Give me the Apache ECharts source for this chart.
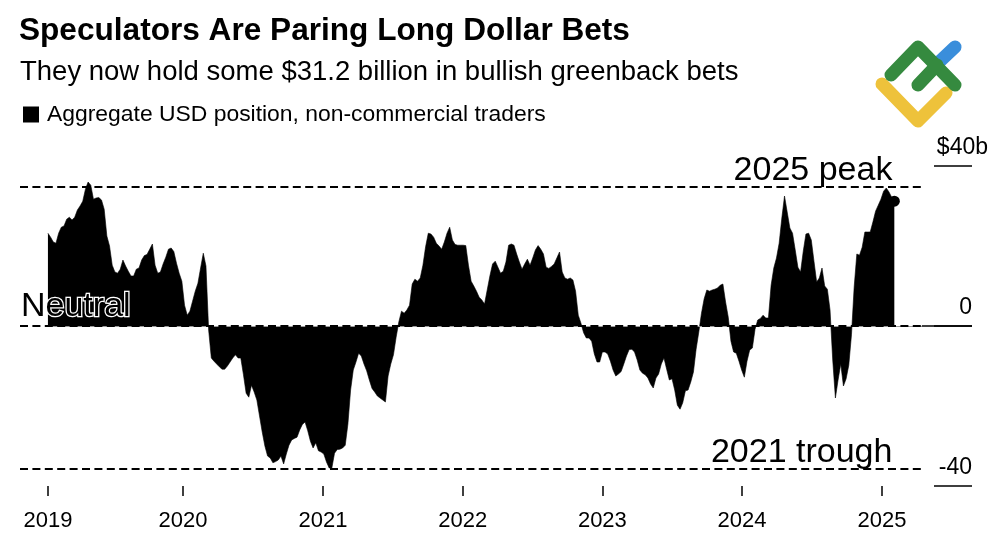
<!DOCTYPE html>
<html>
<head>
<meta charset="utf-8">
<style>html,body{margin:0;padding:0;background:#fff}#chart{width:1000px;height:545px}</style>
<script src="https://cdn.jsdelivr.net/npm/echarts@6/dist/echarts.min.js"></script>
</head>
<body>
<div id="chart"></div>
<script>
const FONT = '"Liberation Sans"'
// first weekly report in the chart, one value per week after that ($b)
const firstReport = '2019-01-13'
const usdPosition = [
  23.2,22.2,21,20.7,23.2,24.7,25,26.7,27.2,26.5,27.2,29,30,31.2,34.2,36,35.2,31.7,32,32.1,
  31.5,29.2,22.5,20,15.2,13.5,13.2,14.2,16.5,15,13.7,12.5,12.5,14.2,14.5,16.5,17.6,17.9,19.2,20.5,
  15.2,13.2,13.5,15.5,17.2,19.2,19.5,18.6,15.7,13.2,11.2,5.2,2.7,3.7,6.2,8.7,10.7,14.5,18.2,15,
  -1,-8,-8.8,-9.5,-10.2,-10.8,-10.8,-10,-9,-8,-7.2,-8,-8,-12.2,-16.8,-17.8,-14.8,-16.5,-18.5,-22.5,
  -26.5,-30,-32.5,-33,-34.2,-33.9,-33.5,-32.5,-34.5,-32,-29.8,-28.5,-28.1,-27.8,-26,-24.6,-24,-26.2,-28.8,-30.5,
  -29.2,-31.2,-31.5,-32,-34,-35.5,-35.5,-31.8,-30.9,-30.8,-30.5,-29.8,-24.5,-16,-11,-9,-6.8,-7.5,-9.5,-11.2,
  -13.5,-15.6,-16.5,-17.5,-18,-18.5,-19,-12.5,-9.5,-7.2,-2.8,1,3.7,3.2,4,5.2,10.5,11.7,11.2,12,
  15.2,19.8,23.2,23,22.2,20.7,20,19.2,21,23.2,24.7,21.5,20.4,20.2,20.2,20.2,20.1,15.2,11.2,10,
  8.7,7.2,6.5,5.5,9,12.5,15.5,16.2,14.7,13.2,13.7,16,20.2,20.5,20.2,18,16,14.2,15.5,16.7,
  15.2,17,19,20.1,19.2,18,14.7,14.4,14.9,15.5,17,18.5,13.5,12,11.7,12,11.5,8.7,2.7,0.7,
  -1.7,-3,-3,-3.8,-7,-9,-9,-6.5,-6.5,-7,-8.8,-11,-12.5,-12,-11.4,-9.5,-7.5,-5.9,-5.8,-6.5,
  -8.5,-11,-11.8,-12.2,-13,-14.5,-15.5,-13,-12,-9.5,-8,-10.8,-13.5,-13.2,-16,-19.8,-20.8,-19.2,-16.2,-16,
  -14,-11.5,-5.8,-1.5,3.2,6.8,9,8.7,9,9.2,9.5,10.2,10.5,6,2.2,-3.8,-6.5,-6.8,-8.8,-11,
  -12.8,-8.8,-6,-5.5,-0.8,1.5,1.9,2.7,2,2,10.2,14.5,17,20.7,27,32.5,28.5,24.5,23.2,19,
  14.7,13.5,18.7,23,23.2,21.5,16.2,11,12,14.5,10,9.2,4,-8.5,-18,-13.5,-9.5,-15,-13.2,-9.8,
  -2.2,9.7,18,17.7,19.7,23.5,23.5,23.5,26,28.7,30.2,31.7,33.7,34.5,33.5,32.2,31.2
]
const yearTicks = ['2019-01-13','2020-01-01','2021-01-01','2022-01-01','2023-01-01','2024-01-01','2025-01-01']
const refLevels = [34.75, 0, -35.75]
const refLineEnd = '2025-04-15'
const axisStart = '2018-11-01'
const axisEnd = '2025-08-24'
const seriesName = 'Aggregate USD position, non-commercial traders'

const ms = d => +new Date(d + 'T00:00:00Z')
const weekMs = 7 * 24 * 3600 * 1000
const seriesData = usdPosition.map((v, i) => [ms(firstReport) + i * weekMs, v])
const lastPoint = seriesData[seriesData.length - 1]
const tickValues = yearTicks.map(ms)

const myChart = echarts.init(document.getElementById('chart'), null, {renderer: 'canvas'})

const note = (text, date, value, extra) => ({
  coord: [ms(date), value], symbolSize: 0,
  label: Object.assign({
    show: true, formatter: text, position: [0, 0], align: 'right', verticalAlign: 'bottom',
    fontFamily: FONT, fontSize: 34, color: '#000'
  }, extra)
})

myChart.setOption({
  animation: false,
  backgroundColor: '#fff',
  textStyle: {fontFamily: FONT},
  title: [
    {text: 'Speculators Are Paring Long Dollar Bets', left: 19, top: 15, padding: 0,
      textStyle: {fontFamily: FONT, fontWeight: 'bold', fontSize: 31.6, color: '#000'}},
    {text: 'They now hold some $31.2 billion in bullish greenback bets', left: 20, top: 58, padding: 0,
      textStyle: {fontFamily: FONT, fontWeight: 'normal', fontSize: 27.5, color: '#000'}}
  ],
  legend: {
    left: 23, top: 103, padding: 0, itemWidth: 16, itemHeight: 16, itemGap: 0,
    icon: 'rect', selectedMode: false,
    textStyle: {fontFamily: FONT, fontSize: 22.9, color: '#000', padding: [0, 0, 0, 3]},
    data: [seriesName]
  },
  grid: {left: 20, right: 28, top: 166, bottom: 59},
  xAxis: {
    type: 'value', min: ms(axisStart), max: ms(axisEnd),
    axisLine: {show: false, onZero: false},
    splitLine: {show: false},
    axisTick: {show: true, length: 10, customValues: tickValues, lineStyle: {color: '#000', width: 1.5}},
    axisLabel: {
      customValues: tickValues,
      formatter: v => String(new Date(v).getUTCFullYear()),
      fontFamily: FONT, fontSize: 22, color: '#000', margin: 24
    }
  },
  yAxis: {
    type: 'value', position: 'right', min: -40, max: 40, interval: 40,
    axisLine: {show: false},
    splitLine: {show: false},
    axisTick: {show: true, inside: true, length: 38, lineStyle: {color: '#000', width: 1.5}},
    axisLabel: {
      // "$40b" hangs past the tick's right end, the others stop at it
      inside: true, margin: -16, verticalAlign: 'bottom', padding: [0, 0, 7, 0],
      fontFamily: FONT, fontSize: 23, color: '#000',
      formatter: v => (v === 40 ? '$40b' : '{pad|' + v + '}'),
      rich: {pad: {fontFamily: FONT, fontSize: 23, color: '#000', padding: [0, 16, 0, 0]}}
    }
  },
  series: [{
    name: seriesName,
    type: 'line',
    data: seriesData,
    showSymbol: false,
    symbol: 'none',
    silent: true,
    itemStyle: {color: '#000'},
    lineStyle: {color: '#000', width: 0.6},
    areaStyle: {color: '#000', opacity: 1},
    markLine: {
      silent: true, symbol: 'none', animation: false, label: {show: false},
      lineStyle: {color: '#000', width: 2, type: [8, 4.4], opacity: 1},
      data: [
        // thin grey rule under the neutral dashes, solid black stub up to the right axis
        [{coord: [ms(firstReport), 0], lineStyle: {color: '#999', width: 1, type: 'solid'}}, {coord: [ms(refLineEnd), 0]}],
        [{coord: [ms(refLineEnd), 0], lineStyle: {color: '#000', width: 1.5, type: 'solid'}}, {coord: [ms(axisEnd), 0]}]
      ].concat(refLevels.map(y => [{coord: [ms(axisStart), y]}, {coord: [ms(refLineEnd), y]}]))
    },
    markPoint: {
      silent: true, animation: false,
      data: [
        {coord: lastPoint, symbol: 'circle', symbolSize: 11, itemStyle: {color: '#000'}, label: {show: false}},
        note('2025 peak', '2025-01-28', refLevels[0], {offset: [0, 1]}),
        note('2021 trough', '2025-01-28', refLevels[2], {offset: [0, 1]}),
        note('Neutral', '2018-11-01', 0, {align: 'left', padding: [0, 0, 2, 1],
          textBorderColor: '#fff', textBorderWidth: 2.5})
      ]
    }
  }],
  graphic: [
    // watermark logo in the corner
    {type: 'polyline', z: 50, shape: {points: [[882, 84], [918, 121], [946, 93]]},
      style: {fill: null, stroke: '#EEC23B', lineWidth: 13, lineCap: 'round', lineJoin: 'round'}},
    {type: 'polyline', z: 50, shape: {points: [[937, 64], [955, 47]]},
      style: {fill: null, stroke: '#3A8EDB', lineWidth: 13, lineCap: 'round'}},
    {type: 'polyline', z: 51, shape: {points: [[891, 75], [918, 47], [955, 85]]},
      style: {fill: null, stroke: '#358A3F', lineWidth: 13, lineCap: 'round', lineJoin: 'round'}},
    {type: 'polyline', z: 51, shape: {points: [[918, 85], [937, 65]]},
      style: {fill: null, stroke: '#358A3F', lineWidth: 13, lineCap: 'round'}}
  ]
})
</script>
</body>
</html>
